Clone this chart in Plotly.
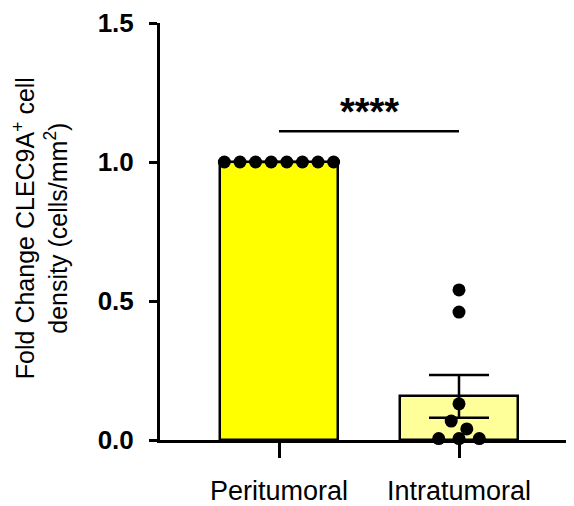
import numpy as np
import plotly.graph_objects as go

categories = ["Peritumoral", "Intratumoral"]
peritumoral = [1.0, 1.0, 1.0, 1.0, 1.0, 1.0, 1.0, 1.0]
intratumoral = [0.54, 0.46, 0.13, 0.068, 0.04, 0.005, 0.005, 0.005]
y_ticks = [0.0, 0.5, 1.0, 1.5]
y_tick_labels = ["0.0", "0.5", "1.0", "1.5"]
sig_label = "****"

groups = [peritumoral, intratumoral]
means = [float(np.mean(g)) for g in groups]
sems = [float(np.std(g, ddof=1) / np.sqrt(len(g))) for g in groups]

FONT = "Liberation Sans, Arial, Helvetica, sans-serif"
SPACING = 0.0867  # horizontal dot spacing in x units
BIN = 0.05

def swarm(values, center):
    xs, ys = [], []
    bins = {}
    for v in values:
        bins.setdefault(int(np.floor((v + 0.02) / BIN)), []).append(v)
    for k, vals in bins.items():
        vals = sorted(vals, reverse=True)
        n = len(vals)
        sp = SPACING if n != 3 else SPACING * 1.3
        for i, v in enumerate(vals):
            xs.append(center + (i - (n - 1) / 2) * sp)
            ys.append(v)
    return xs, ys

fig = go.Figure()
fig.add_trace(go.Bar(
    x=[0, 1], y=means, width=0.655,
    marker=dict(color=["#FFFF00", "#FFFF99"], line=dict(color="black", width=2.5)),
    error_y=dict(type="data", array=sems, visible=True, color="black", thickness=2.5, width=30),
    showlegend=False, hoverinfo="skip",
))
for i, g in enumerate(groups):
    xs, ys = swarm(g, i)
    fig.add_trace(go.Scatter(
        x=xs, y=ys, mode="markers",
        marker=dict(color="black", size=13, line=dict(width=0)),
        showlegend=False, hoverinfo="skip", cliponaxis=False,
    ))

# significance bracket
sig_y = 1.111
fig.add_shape(type="line", x0=0, x1=1, y0=sig_y, y1=sig_y, xref="x", yref="y",
              line=dict(color="black", width=2.5))
fig.add_annotation(x=0.5, y=sig_y, xref="x", yref="y", text="<b>" + sig_label + "</b>",
                   showarrow=False, yanchor="bottom", yshift=-4,
                   font=dict(family=FONT, size=38, color="black"))

fig.add_annotation(
    text="Fold Change CLEC9A<sup>+</sup> cell<br>density (cells/mm<sup>2</sup>)",
    xref="paper", yref="paper", x=(40 - 160) / 414, y=0.508,
    textangle=-90, showarrow=False, xanchor="center", yanchor="middle",
    font=dict(family=FONT, size=25, color="black"),
)

fig.update_layout(
    width=566, height=498,
    margin=dict(l=152, r=0, t=11, b=66),
    paper_bgcolor="white", plot_bgcolor="white",
    font=dict(family=FONT, color="black"),
    bargap=0,
)
fig.update_xaxes(
    range=[-119 / 180, 295 / 180],
    tickvals=[0, 1], ticktext=categories,
    ticks="outside", ticklen=15, tickwidth=3, tickcolor="black",
    showline=True, linewidth=3, linecolor="black",
    showgrid=False, zeroline=False, ticklabeloverflow="allow",
    ticklabelstandoff=10,
    tickfont=dict(family=FONT, size=27, color="black"),
)
fig.update_yaxes(
    range=[0, 1.5],
    tickvals=y_ticks, ticktext=["<b>%s</b>" % t for t in y_tick_labels],
    ticks="outside", ticklen=8, tickwidth=3, tickcolor="black",
    showline=True, linewidth=3, linecolor="black",
    showgrid=False, zeroline=False, ticklabelstandoff=10,
    ticklabeloverflow="allow",
    tickfont=dict(family=FONT, size=26, color="black"),
)

fig.write_html("out.html")
